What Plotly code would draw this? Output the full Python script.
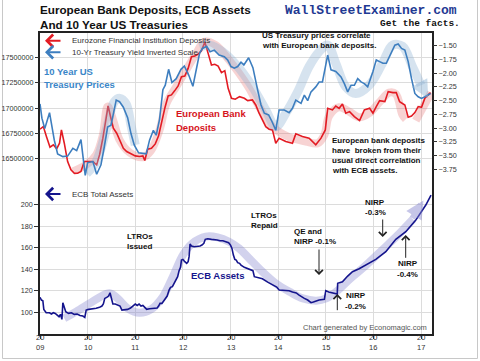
import plotly.graph_objects as go

# ---------------- data ----------------
dep_years = [2009.00, 2009.07, 2009.14, 2009.21, 2009.28, 2009.35, 2009.41, 2009.45, 2009.51, 2009.58,
             2009.65, 2009.72, 2009.79, 2009.86, 2009.93, 2010.02, 2010.11, 2010.19, 2010.25, 2010.32,
             2010.37, 2010.43, 2010.48, 2010.54, 2010.61, 2010.68, 2010.75, 2010.82, 2010.91, 2011.00,
             2011.09, 2011.16, 2011.20, 2011.26, 2011.34, 2011.42, 2011.49, 2011.55, 2011.62, 2011.69,
             2011.76, 2011.83, 2011.90, 2011.97, 2012.04, 2012.11, 2012.18, 2012.25, 2012.32, 2012.39,
             2012.46, 2012.53, 2012.60, 2012.67, 2012.74, 2012.81, 2012.88, 2012.95, 2013.02, 2013.10,
             2013.19, 2013.29, 2013.36, 2013.46, 2013.53, 2013.60, 2013.67, 2013.74, 2013.81, 2013.88,
             2013.95, 2014.02, 2014.16, 2014.30, 2014.37, 2014.51, 2014.65, 2014.79, 2014.90, 2014.99,
             2015.04, 2015.14, 2015.21, 2015.28, 2015.35, 2015.42, 2015.50, 2015.60, 2015.71, 2015.81,
             2015.92, 2015.99, 2016.06, 2016.13, 2016.24, 2016.31, 2016.41, 2016.48, 2016.55, 2016.66,
             2016.73, 2016.80, 2016.87, 2016.94, 2017.01, 2017.08, 2017.15, 2017.20]
dep_values = [16790000, 16815000, 16710000, 16610000, 16634000, 16594000, 16650000, 16782000, 16650000, 16468000,
              16386000, 16352000, 16352000, 16369000, 16468000, 16468000, 16468000, 16435000, 16534000, 16700000,
              16865000, 17020000, 16915000, 16799000, 16749000, 16667000, 16600000, 16567000, 16544000, 16524000,
              16518000, 16524000, 16478000, 16590000, 16600000, 16643000, 16723000, 16865000, 16997000, 17120000,
              17130000, 17173000, 17219000, 17311000, 17318000, 17394000, 17510000, 17517000, 17536000, 17569000,
              17655000, 17543000, 17427000, 17434000, 17417000, 17351000, 17371000, 17196000, 17097000, 17087000,
              17113000, 17097000, 17073000, 17080000, 17030000, 16948000, 16888000, 16815000, 16789000, 16782000,
              16650000, 16700000, 16667000, 16650000, 16743000, 16716000, 16700000, 16634000, 16700000, 16782000,
              16997000, 16981000, 17020000, 16997000, 17040000, 16948000, 16964000, 16915000, 16875000, 16981000,
              16997000, 16948000, 17014000, 17073000, 17063000, 17163000, 17153000, 17153000, 17063000, 17030000,
              16908000, 16921000, 16954000, 17014000, 17007000, 17097000, 17130000, 17153000]

yld_years = [2009.00, 2009.04, 2009.10, 2009.20, 2009.30, 2009.37, 2009.48, 2009.58, 2009.69, 2009.77,
             2009.86, 2009.91, 2009.95, 2010.00, 2010.11, 2010.19, 2010.28, 2010.35, 2010.42, 2010.49,
             2010.60, 2010.67, 2010.75, 2010.84, 2010.91, 2010.98, 2011.07, 2011.16, 2011.23, 2011.30,
             2011.38, 2011.44, 2011.51, 2011.58, 2011.63, 2011.70, 2011.77, 2011.86, 2011.96, 2012.03,
             2012.12, 2012.21, 2012.29, 2012.35, 2012.41, 2012.50, 2012.57, 2012.66, 2012.76, 2012.87,
             2012.94, 2013.01, 2013.08, 2013.15, 2013.22, 2013.28, 2013.38, 2013.47, 2013.57, 2013.64,
             2013.71, 2013.80, 2013.87, 2013.95, 2014.02, 2014.13, 2014.23, 2014.30, 2014.37, 2014.48,
             2014.55, 2014.62, 2014.69, 2014.79, 2014.86, 2014.93, 2015.04, 2015.11, 2015.21, 2015.32,
             2015.39, 2015.46, 2015.53, 2015.60, 2015.67, 2015.74, 2015.81, 2015.88, 2015.99, 2016.06,
             2016.13, 2016.20, 2016.27, 2016.34, 2016.45, 2016.52, 2016.59, 2016.66, 2016.73, 2016.80,
             2016.87, 2016.94, 2017.01, 2017.08, 2017.15, 2017.20]
yld_values = [-2.56, -2.82, -3.01, -2.72, -3.22, -3.47, -3.52, -3.51, -3.37, -3.41,
              -3.21, -3.64, -3.86, -3.63, -3.61, -3.84, -3.67, -3.34, -2.98, -2.95,
              -2.49, -2.52, -2.62, -2.81, -3.10, -3.31, -3.45, -3.46, -3.47, -3.22,
              -3.04, -3.13, -2.84, -2.30, -2.22, -1.93, -2.17, -2.10, -1.93, -1.87,
              -2.03, -2.24, -1.91, -1.64, -1.55, -1.51, -1.61, -1.58, -1.67, -1.70,
              -1.76, -1.88, -1.91, -1.88, -1.80, -1.85, -1.72, -1.90, -2.31, -2.58,
              -2.73, -2.76, -2.88, -3.04, -2.67, -2.67, -2.72, -2.64, -2.49, -2.55,
              -2.40, -2.50, -2.34, -2.25, -2.16, -2.16, -1.67, -1.94, -1.97, -2.07,
              -2.19, -2.34, -2.22, -2.22, -2.10, -2.16, -2.19, -2.25, -1.97, -1.76,
              -1.79, -1.82, -1.82, -1.70, -1.49, -1.47, -1.55, -1.58, -1.79, -2.10,
              -2.37, -2.43, -2.46, -2.43, -2.40, -2.37]

ecb_years = [2009.00, 2009.03, 2009.06, 2009.08, 2009.13, 2009.20, 2009.24, 2009.28, 2009.32, 2009.36,
             2009.40, 2009.43, 2009.46, 2009.48, 2009.50, 2009.54, 2009.60, 2009.66, 2009.72, 2009.78,
             2009.84, 2009.90, 2009.94, 2009.97, 2010.02, 2010.10, 2010.18, 2010.25, 2010.30, 2010.33,
             2010.36, 2010.40, 2010.44, 2010.47, 2010.50, 2010.53, 2010.58, 2010.63, 2010.68, 2010.72,
             2010.78, 2010.84, 2010.90, 2010.95, 2011.00, 2011.04, 2011.08, 2011.12, 2011.16, 2011.20,
             2011.24, 2011.30, 2011.36, 2011.42, 2011.46, 2011.49, 2011.52, 2011.56, 2011.60, 2011.64,
             2011.67, 2011.71, 2011.74, 2011.78, 2011.82, 2011.86, 2011.89, 2011.92, 2011.95, 2011.97,
             2012.00, 2012.04, 2012.08, 2012.11, 2012.13, 2012.15, 2012.18, 2012.24, 2012.30, 2012.36,
             2012.40, 2012.44, 2012.47, 2012.52, 2012.60, 2012.66, 2012.72, 2012.78, 2012.84, 2012.90,
             2012.96, 2013.00, 2013.03, 2013.06, 2013.09, 2013.12, 2013.15, 2013.19, 2013.22, 2013.29,
             2013.40, 2013.47, 2013.50, 2013.57, 2013.67, 2013.78, 2013.88, 2013.97, 2014.02, 2014.10,
             2014.23, 2014.30, 2014.38, 2014.44, 2014.50, 2014.55, 2014.62, 2014.69, 2014.74, 2014.80,
             2014.86, 2014.97, 2015.00, 2015.06, 2015.11, 2015.21, 2015.24, 2015.25, 2015.35, 2015.46,
             2015.56, 2015.70, 2015.84, 2016.05, 2016.26, 2016.47, 2016.68, 2016.89, 2017.10, 2017.21]
ecb_values = [114.0, 111.4, 110.8, 102.7, 99.6, 99.6, 98.4, 99.6, 99.0, 97.5,
              95.9, 98.1, 93.4, 108.9, 105.2, 100.6, 99.0, 99.6, 98.1, 98.4,
              97.1, 96.5, 95.3, 102.1, 102.7, 103.0, 103.7, 104.6, 105.8, 107.7,
              112.9, 113.9, 115.1, 118.2, 111.4, 107.7, 107.7, 106.4, 105.8, 102.1,
              102.1, 102.7, 104.0, 105.8, 107.7, 106.4, 107.7, 105.8, 106.4, 104.6,
              102.7, 103.3, 103.3, 104.0, 104.0, 105.8, 108.3, 108.3, 110.8, 112.9,
              115.1, 120.7, 123.2, 123.8, 127.5, 130.0, 133.1, 138.7, 141.8, 148.6,
              149.2, 147.0, 145.5, 147.0, 151.7, 163.4, 161.6, 161.0, 161.0, 161.6,
              162.5, 164.1, 167.8, 168.4, 167.8, 167.8, 167.2, 166.5, 166.5, 165.6,
              164.7, 162.5, 159.4, 153.2, 149.2, 148.6, 146.1, 145.5, 143.9, 141.8,
              139.9, 138.7, 133.1, 132.5, 131.2, 128.0, 125.6, 123.5, 120.7, 120.4,
              120.1, 118.8, 118.0, 116.0, 114.0, 112.9, 111.4, 108.9, 109.5, 110.6,
              111.4, 112.0, 120.1, 118.8, 118.2, 117.0, 117.0, 126.9, 128.4, 133.7,
              137.7, 140.5, 143.9, 149.2, 156.3, 167.8, 174.9, 185.7, 199.7, 209.0]

# hand-drawn highlight strokes
red_band1_years = [2009.69, 2009.97, 2010.18, 2010.32, 2010.42, 2010.53, 2010.67, 2010.88, 2011.16, 2011.33,
                   2011.51, 2011.65, 2011.86, 2012.07, 2012.28, 2012.45, 2012.69, 2012.97, 2013.18, 2013.39,
                   2013.60, 2013.88, 2014.23, 2014.58, 2014.83, 2014.97, 2015.07, 2015.28, 2015.49, 2015.70,
                   2015.91, 2016.12, 2016.33, 2016.47, 2016.61, 2016.68]
red_band1_values = [16369000, 16435000, 16534000, 16733000, 17014000, 16888000, 16683000, 16557000, 16511000, 16577000,
                    16782000, 17040000, 17212000, 17378000, 17543000, 17659000, 17626000, 17477000, 17345000, 17196000,
                    17014000, 16815000, 16710000, 16667000, 16650000, 16733000, 16921000, 17007000, 16964000, 16908000,
                    16948000, 17054000, 17153000, 17140000, 16931000, 16888000]
red_band2_years = [2016.89, 2017.21]
red_band2_values = [16875000, 17153000]

blue_band1_years = [2009.98, 2010.18, 2010.39, 2010.56, 2010.68, 2010.81, 2010.91, 2011.00]
blue_band1_values = [-3.825, -3.613, -3.036, -2.520, -2.459, -2.563, -2.945, -3.309]
blue_band2_years = [2012.35, 2012.56, 2012.83, 2013.15, 2013.46, 2013.74, 2013.95, 2014.16, 2014.41, 2014.65,
                    2014.86, 2015.04, 2015.21, 2015.42, 2015.63, 2015.91, 2016.19, 2016.40, 2016.61, 2016.82,
                    2017.00]
blue_band2_values = [-1.52, -1.49, -1.61, -1.88, -2.25, -2.67, -2.975, -2.73, -2.34, -1.88,
                     -1.61, -1.49, -1.82, -2.25, -2.37, -2.22, -1.82, -1.49, -1.51, -1.88,
                     -2.22]

ecb_band_years = [2009.51, 2009.76, 2010.04, 2010.25, 2010.46, 2010.63, 2010.84, 2011.09, 2011.33, 2011.58,
                  2011.79, 2012.00, 2012.20, 2012.48, 2012.73, 2012.97, 2013.18, 2013.39, 2013.67, 2013.95,
                  2014.24, 2014.52, 2014.80, 2015.01, 2015.22, 2015.50, 2015.85, 2016.20, 2016.55, 2016.83]
ecb_band_values = [94.4, 100.6, 108.3, 113.9, 117.6, 113.0, 103.7, 99.6, 102.7, 114.5,
                   133.1, 153.2, 164.1, 170.3, 169.6, 165.6, 159.4, 150.1, 137.7, 126.9,
                   119.1, 112.9, 110.8, 112.9, 119.1, 130.6, 143.9, 158.5, 173.4, 186.4]

year_ticks = [2009, 2010, 2011, 2012, 2013, 2014, 2015, 2016, 2017]
year_labels = ["20<br>09", "20<br>10", "20<br>11", "20<br>12", "20<br>13",
               "20<br>14", "20<br>15", "20<br>16", "20<br>17"]
dep_ticks = [16500000, 16750000, 17000000, 17250000, 17500000]
yld_ticks = [-1.50, -1.75, -2.00, -2.25, -2.50, -2.75, -3.00, -3.25, -3.50, -3.75]
ecb_ticks = [100, 120, 140, 160, 180, 200]

# ---------------- layout helpers ----------------
WI, HI = 480, 361
L, R, T, B = 40, 48, 33, 27
PW, PH = WI - L - R, HI - T - B


def px(x):
    return (x - L) / PW


def py(y):
    return (HI - B - y) / PH


SANS = "Liberation Sans, Arial, sans-serif"
RED = "#e31b23"
BLUE = "#3d7ebf"
NAVY = "#14148c"

fig = go.Figure()

fig.add_trace(go.Scatter(x=ecb_band_years, y=ecb_band_values, mode="lines", yaxis="y",
                         line=dict(color="rgba(130,130,205,0.36)", width=8, shape="spline"),
                         hoverinfo="skip"))
fig.add_trace(go.Scatter(x=ecb_years, y=ecb_values, mode="lines", yaxis="y",
                         line=dict(color=NAVY, width=1.6), name="ECB Total Assets"))
for xs, ys in [(red_band1_years, red_band1_values), (red_band2_years, red_band2_values)]:
    fig.add_trace(go.Scatter(x=xs, y=ys, mode="lines", yaxis="y2",
                             line=dict(color="rgba(228,110,110,0.30)", width=8, shape="spline"),
                             hoverinfo="skip"))
fig.add_trace(go.Scatter(x=dep_years, y=dep_values, mode="lines", yaxis="y2",
                         line=dict(color=RED, width=1.6), name="Eurozone Financial Institution Deposits"))
for xs, ys in [(blue_band1_years, blue_band1_values), (blue_band2_years, blue_band2_values)]:
    fig.add_trace(go.Scatter(x=xs, y=ys, mode="lines", yaxis="y3",
                             line=dict(color="rgba(140,178,212,0.36)", width=9, shape="spline"),
                             hoverinfo="skip"))
fig.add_trace(go.Scatter(x=yld_years, y=yld_values, mode="lines", yaxis="y3",
                         line=dict(color=BLUE, width=1.6), name="10-Yr Treasury Yield Inverted Scale"))

tickfont = dict(family=SANS, size=7.2, color="#333")
fig.update_layout(
    width=WI, height=HI, margin=dict(l=L, r=R, t=T, b=B, autoexpand=False),
    paper_bgcolor="white", plot_bgcolor="white", showlegend=False,
    xaxis=dict(range=[2009, 2017.23], tickvals=year_ticks, showticklabels=False, automargin=False,
               ticks="outside", ticklen=3, tickcolor="#333", showgrid=True, gridcolor="#dcdcdc",
               showline=True, linecolor="#222", linewidth=1.5, mirror=True, zeroline=False),
    yaxis=dict(range=[79.83, 359.6], tickvals=ecb_ticks, tickfont=tickfont, ticks="outside",
               ticklen=4, tickcolor="#333", showgrid=True, gridcolor="#dcdcdc", automargin=False,
               showline=True, linecolor="#222", linewidth=1.5, mirror=True, zeroline=False),
    yaxis2=dict(overlaying="y", side="left", range=[14753600, 17745500], tickvals=dep_ticks,
                tickformat="d", tickfont=tickfont, ticks="outside", ticklen=4, tickcolor="#333",
                automargin=False, showgrid=True, gridcolor="#dcdcdc", showline=False, zeroline=False),
    yaxis3=dict(overlaying="y", side="right", range=[-6.749, -1.269], tickvals=yld_ticks,
                tickformat=".2f", tickfont=tickfont, ticks="outside", ticklen=4, tickcolor="#333",
                automargin=False, showgrid=False, showline=False, zeroline=False),
)

ann = []


def text(x, y, s, size=8, color="#111", bold=False, family=SANS, anchor="left"):
    ann.append(dict(xref="paper", yref="paper", x=px(x), y=py(y), text=("<b>%s</b>" % s) if bold else s,
                    showarrow=False, xanchor=anchor, yanchor="middle", borderpad=0,
                    font=dict(family=family, size=size, color=color), align="left"))


def arrow(x, y_tip, x_tail, y_tail, color="#222", width=1, head=4, size=1.3):
    ann.append(dict(xref="paper", yref="paper", x=px(x), y=py(y_tip), text="",
                    showarrow=True, ax=x_tail - x, ay=y_tail - y_tip, arrowcolor=color,
                    arrowwidth=width, arrowhead=head, arrowsize=size))


# x tick labels (two rows: "20" over "09")
for yr, lab in zip(year_ticks, year_labels):
    ann.append(dict(xref="x", yref="paper", x=yr, y=py(342.8), text=lab, showarrow=False,
                    yanchor="middle", borderpad=0, font=dict(family=SANS, size=7.5, color="#333")))

# titles / branding
text(39, 16.5, "<b>European Bank Deposits, ECB Assets<br>And 10 Year US Treasuries</b>", size=11.7,
     color="#111")
text(284, 10, "WallStreetExaminer.com", size=13, bold=True, color="#1f3a93",
     family="Liberation Mono, Courier New, monospace")
text(461, 24, "Get the facts.", size=9.5, bold=True, color="#111",
     family="Liberation Mono, Courier New, monospace", anchor="right")

# legends
arrow(45, 40.7, 62, 40.7, color=RED, width=2, head=4, size=1.2)
text(71, 40.7, "Eurozone Financial Institution Deposits", size=8, color="#333")
arrow(45, 52.3, 62, 52.3, color=BLUE, width=2, head=4, size=1.2)
text(71, 52.3, "10-Yr Treasury Yield Inverted Scale", size=8, color="#333")
arrow(45, 194, 62, 194, color=NAVY, width=2, head=4, size=1.2)
text(71, 194, "ECB Total Assets", size=8, color="#333")

# labels
text(43, 71.7, "10 Year US", size=9.5, bold=True, color="#3a86c8")
text(43, 84.3, "Treasury Prices", size=9.5, bold=True, color="#3a86c8")
text(175, 113.3, "European Bank", size=9.5, bold=True, color="#d6141c")
text(175, 127.7, "Deposits", size=9.5, bold=True, color="#d6141c")
text(190, 275.7, "ECB Assets", size=9.5, bold=True, color=NAVY)
text(261, 35, "US Treasury prices correlate", size=8, bold=True)
text(261, 45.7, "with European bank deposits.", size=8, bold=True)
for i, s in enumerate(["European bank deposits", "have  broken from their",
                       "usual direct correlation", "with ECB assets."]):
    text(330.5, 140 + i * 10.3, s, size=8, bold=True)
text(126, 236.7, "LTROs", size=8, bold=True)
text(126, 246.7, "Issued", size=8, bold=True)
text(250, 215, "LTROs", size=8, bold=True)
text(250, 225.7, "Repaid", size=8, bold=True)
text(292.5, 231, "QE and", size=8, bold=True)
text(292.5, 241, "NIRP -0.1%", size=8, bold=True)
text(364, 202.3, "NIRP", size=8, bold=True)
text(363.5, 212.7, "-0.3%", size=8, bold=True)
text(344.5, 295.7, "NIRP", size=8, bold=True)
text(344, 306, "-0.2%", size=8, bold=True)
text(396.5, 263.3, "NIRP", size=8, bold=True)
text(396, 274.3, "-0.4%", size=8, bold=True)
text(301.5, 327.3, "Chart generated by Economagic.com", size=7.5, color="#555")

# event arrows
arrow(319, 275, 319, 248, size=1.5)
arrow(382.7, 237, 382.7, 218, size=1.5)
arrow(337.3, 294, 337.3, 311.7, size=1.5)
arrow(405.7, 235, 405.7, 259.3, size=1.5)

# band arrowheads
ann.append(dict(xref="x", yref="y", x=2017.05, y=204, axref="x", ayref="y", ax=2016.8, ay=186,
                text="", showarrow=True, arrowcolor="rgba(130,130,205,0.45)", arrowwidth=6,
                arrowhead=2, arrowsize=0.6))
ann.append(dict(xref="x", yref="y3", x=2017.15, y=-2.46, axref="x", ayref="y3", ax=2016.95, ay=-2.15,
                text="", showarrow=True, arrowcolor="rgba(140,178,212,0.45)", arrowwidth=6,
                arrowhead=2, arrowsize=0.6))

fig.update_layout(annotations=ann)

fig.add_shape(type="rect", xref="paper", yref="paper", x0=px(2.5), x1=px(477.5), y0=py(358.5), y1=py(-5),
              line=dict(color="#c8c8c8", width=1), fillcolor="rgba(0,0,0,0)", layer="below")

fig.write_html("out.html", config={"displayModeBar": False},
               post_script="document.body.style.margin='0';document.body.style.overflow='hidden';")
